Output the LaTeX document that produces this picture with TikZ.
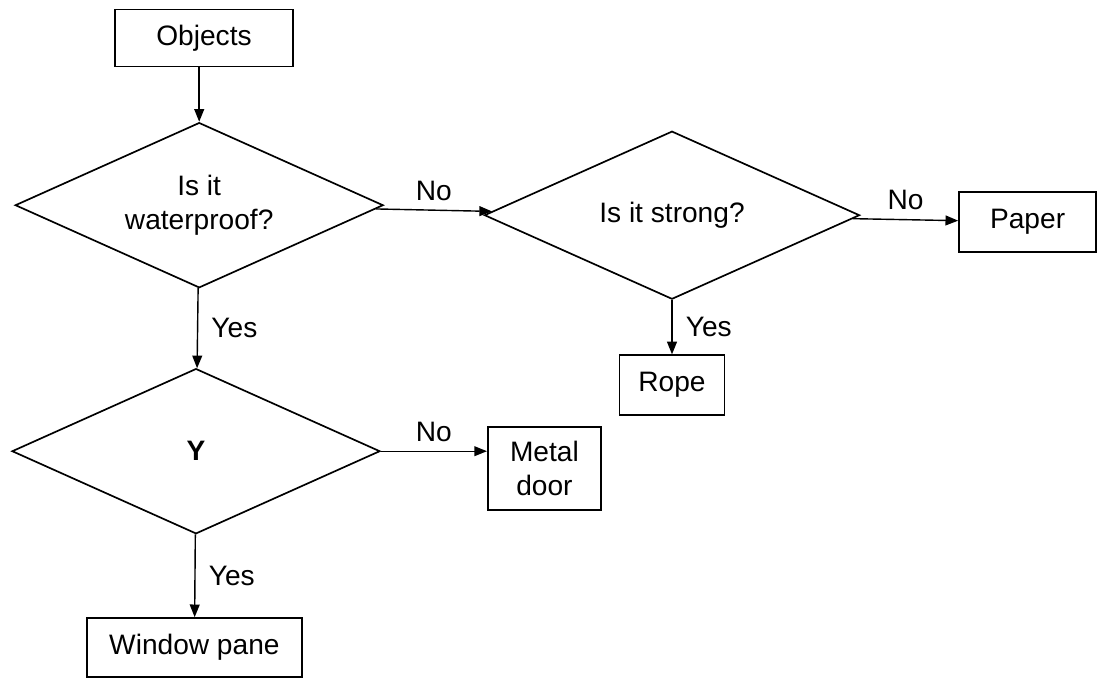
\documentclass[tikz,border=0pt]{standalone}
\usepackage{fontspec}
\setmainfont{Liberation Sans}
\usetikzlibrary{shapes.geometric,arrows.meta}

\begin{document}
\begin{tikzpicture}[->,>={Triangle[length=9pt,width=7pt]},line width=1pt,
    box node/.style={rectangle,draw,line width=1.2pt,inner sep=0pt,font=\fontsize{20}{24}\selectfont},
    test node/.style={diamond,aspect=2.2,draw,line width=1.2pt,inner sep=0pt,align=center,font=\fontsize{20}{24}\selectfont}]

\useasboundingbox (0,0) rectangle (27.45,-17.05);

\node[box node, minimum width=4.45cm, minimum height=1.43cm] (objects) at (5.1,-0.95) {Objects};
\node[test node, minimum width=9.2cm, minimum height=4.13cm] (waterproof) at (4.98,-5.13) {Is it\\waterproof?};
\node[test node, minimum width=9.38cm, minimum height=4.2cm] (strong) at (16.8,-5.38) {Is it strong?};
\node[box node, minimum width=3.43cm, minimum height=1.5cm] (paper) at (25.69,-5.55) {Paper};
\node[box node, minimum width=2.63cm, minimum height=1.5cm] (rope) at (16.8,-9.63) {Rope};
\node[test node, minimum width=9.2cm, minimum height=4.13cm, font=\fontsize{20}{24}\selectfont\bfseries] (y) at (4.9,-11.28) {Y};
\node[box node, minimum width=2.83cm, minimum height=2.08cm, align=center] (metal) at (13.61,-11.71) {Metal\\door};
\node[box node, minimum width=5.38cm, minimum height=1.48cm] (window) at (4.86,-16.19) {Window pane};

\draw (objects.south -| waterproof.north) -- (waterproof.north);

\path[every node/.style={font=\fontsize{20}{24}\selectfont}]
(waterproof) edge node[above=3pt] {No} (strong)
(strong) edge node[above=3pt] {No} (paper)
(strong) edge node[right=6pt] {Yes} (rope)
(waterproof) edge node[right=6pt] {Yes} (y)
(y) edge node[right=6pt] {Yes} (window);

\draw (y.east) -- node[above=3pt, font=\fontsize{20}{24}\selectfont] {No} (y.east -| metal.west);

\end{tikzpicture}
\end{document}
